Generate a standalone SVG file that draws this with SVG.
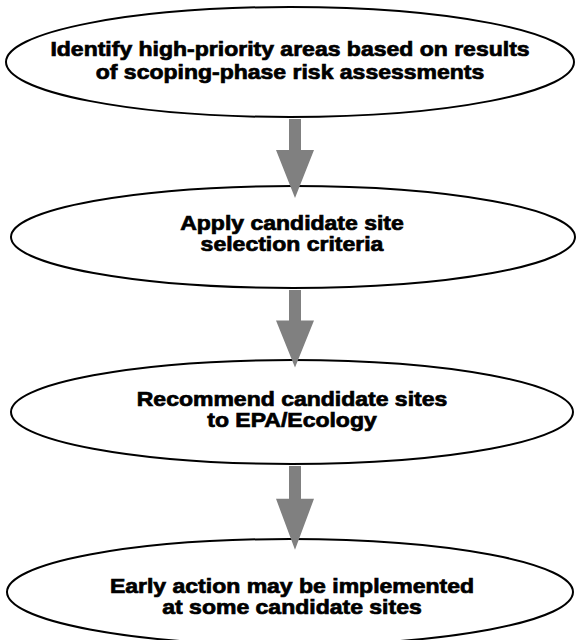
<svg xmlns="http://www.w3.org/2000/svg" width="576" height="640" viewBox="0 0 576 640">
  <style>
    .node ellipse { fill: #ffffff; stroke: #000000; stroke-width: 2; }
    .label { font-family: "Liberation Sans", Arial, sans-serif; font-weight: bold; font-size: 20px; fill: #000000; stroke: #000000; stroke-width: 0.7; text-anchor: middle; }
    .arrow { fill: #808080; stroke: none; }
  </style>
  <defs>
    <!-- block arrow pointing down, origin at shaft top centre -->
    <path id="blockArrow" d="M -6 0 H 6 V 31 H 19 L 0 79 L -19 31 H -6 Z"/>
  </defs>
  <rect width="576" height="640" fill="#ffffff"/>

  <g id="node-identify" class="node">
    <ellipse cx="290" cy="62" rx="284" ry="55"/>
    <g transform="translate(290,0) scale(1.15,1)">
      <text class="label" x="0" y="56">Identify high-priority areas based on results</text>
      <text class="label" x="0" y="79">of scoping-phase risk assessments</text>
    </g>
  </g>

  <g id="node-apply" class="node">
    <ellipse cx="293" cy="237" rx="282" ry="51"/>
    <g transform="translate(292,0) scale(1.15,1)">
      <text class="label" x="0" y="230">Apply candidate site</text>
      <text class="label" x="0" y="251">selection criteria</text>
    </g>
  </g>

  <g id="node-recommend" class="node">
    <ellipse cx="292" cy="412" rx="281" ry="52"/>
    <g transform="translate(292,0) scale(1.15,1)">
      <text class="label" x="0" y="406">Recommend candidate sites</text>
      <text class="label" x="0" y="427">to EPA/Ecology</text>
    </g>
  </g>

  <g id="node-early-action" class="node">
    <ellipse cx="290" cy="592" rx="283" ry="53"/>
    <g transform="translate(292,0) scale(1.15,1)">
      <text class="label" x="0" y="593">Early action may be implemented</text>
      <text class="label" x="0" y="614">at some candidate sites</text>
    </g>
  </g>

  <g id="connectors">
    <use href="#blockArrow" class="arrow" transform="translate(295,119)"/>
    <use href="#blockArrow" class="arrow" transform="translate(295,290) scale(1,0.98)"/>
    <use href="#blockArrow" class="arrow" transform="translate(295,466) scale(1,1.06)"/>
  </g>
</svg>
